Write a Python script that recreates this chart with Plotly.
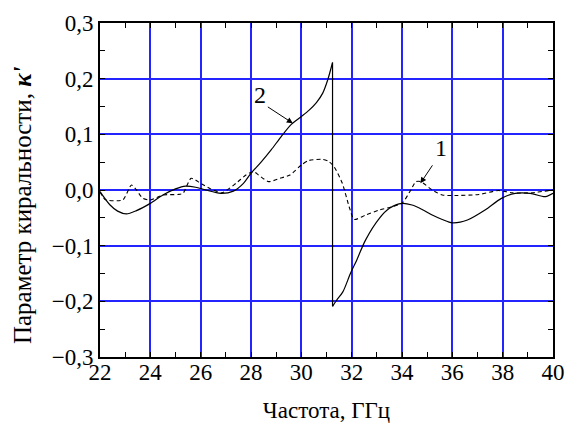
import plotly.graph_objects as go

# Curve 2 (solid) — jump at 31.24 GHz
x2 = [22.0, 22.4, 22.7, 23.05, 23.45, 24.0, 24.5, 25.0, 25.4, 25.8, 26.2, 26.8, 27.3, 27.7,
      28.0, 28.4, 28.8, 29.2, 29.6, 30.0, 30.3, 30.6, 30.85, 31.05, 31.24,
      31.24, 31.4, 31.65, 31.95, 32.2, 32.55, 33.1, 33.5, 34.0, 34.4, 34.8, 35.2, 35.6,
      36.0, 36.6, 37.3, 37.95, 38.5, 39.1, 39.7, 40.0]
y2 = [-0.003, -0.027, -0.038, -0.043, -0.037, -0.024, -0.009, 0.002, 0.007, 0.005, 0.0, -0.006, -0.002, 0.012,
      0.03, 0.05, 0.072, 0.096, 0.118, 0.132, 0.143, 0.157, 0.174, 0.198, 0.229,
      -0.209, -0.198, -0.183, -0.150, -0.126, -0.09, -0.051, -0.033, -0.024, -0.027, -0.035, -0.045, -0.053,
      -0.059, -0.054, -0.036, -0.015, -0.006, -0.006, -0.012, -0.006]

# Curve 1 (dashed)
x1 = [22.0, 22.2, 22.9, 23.25, 23.45, 23.7, 24.0, 24.5, 25.1, 25.3, 25.62, 26.0, 26.4, 26.85,
      27.4, 27.8, 28.1, 28.3, 28.7, 29.15, 29.55, 30.0, 30.3, 30.85, 31.1, 31.3, 31.63, 31.9,
      32.1, 32.56, 33.1, 33.6, 34.0, 34.35, 34.55, 34.75, 35.2, 35.6, 36.1, 37.05, 37.84,
      38.37, 39.16, 39.68, 40.0]
y1 = [-0.003, -0.017, -0.018, 0.009, 0.0, -0.015, -0.018, -0.009, -0.008, -0.006, 0.021, 0.012, 0.002, -0.005,
      0.012, 0.027, 0.033, 0.027, 0.015, 0.021, 0.027, 0.045, 0.053, 0.055, 0.051, 0.042, 0.012, -0.030,
      -0.053, -0.045, -0.036, -0.030, -0.024, 0.0, 0.015, 0.015, 0.0, -0.009, -0.010, -0.008, -0.001,
      -0.005, -0.005, -0.002, 0.0]

# Curve labels: text position, arrow tail, arrow head
label_text = ["2", "1"]
label_x = [28.34, 35.56]
label_y = [0.171, 0.075]
tail_x = [28.61, 35.25]
tail_y = [0.151, 0.047]
head_x = [29.66, 34.73]
head_y = [0.120, 0.012]

x_ticks = [22, 24, 26, 28, 30, 32, 34, 36, 38, 40]
y_ticks = [-0.3, -0.2, -0.1, 0.0, 0.1, 0.2, 0.3]

FONT = "Liberation Serif"

# split solid curve at the jump (repeated x)
j = next(i for i in range(1, len(x2)) if x2[i] == x2[i - 1])
xs = x2[:j] + [None] + x2[j - 1:j + 1] + [None] + x2[j:]
ys = y2[:j] + [None] + y2[j - 1:j + 1] + [None] + y2[j:]

fig = go.Figure()
fig.add_trace(go.Scatter(x=x1, y=y1, mode="lines",
                         line=dict(color="black", width=1.1, dash="4px,3px", shape="spline", smoothing=0.6),
                         showlegend=False))
fig.add_trace(go.Scatter(x=xs, y=ys, mode="lines", connectgaps=False,
                         line=dict(color="black", width=1.2, shape="spline", smoothing=0.8),
                         showlegend=False))

for t, lx, ly, tx, ty, hx, hy in zip(label_text, label_x, label_y, tail_x, tail_y, head_x, head_y):
    fig.add_annotation(x=lx, y=ly, text=t, showarrow=False,
                       font=dict(family=FONT, size=24, color="black"))
    fig.add_annotation(x=hx, y=hy, ax=tx, ay=ty, xref="x", yref="y", axref="x", ayref="y",
                       text="", showarrow=True, arrowhead=2, arrowsize=1.2, arrowwidth=1,
                       arrowcolor="black", standoff=0)

# y-axis title (placed as annotation so it can sit slightly below the plot middle, like the reference)
fig.add_annotation(text="Параметр киральности, <b><i>κ'</i></b>", textangle=-90,
                   xref="paper", yref="paper", x=-0.172, y=0.455, xanchor="center", yanchor="middle",
                   showarrow=False, font=dict(family=FONT, size=25, color="black"))

axis_common = dict(
    showline=True, linecolor="black", linewidth=1.6, mirror="allticks",
    ticks="inside", ticklen=5, tickcolor="black", tickwidth=1,
    showgrid=True, gridcolor="#2424ff", gridwidth=1.5, zeroline=False,
    tickfont=dict(family=FONT, size=23, color="black"), automargin=False,
)

fig.update_xaxes(range=[22, 40], tickvals=x_ticks, ticktext=[str(v) for v in x_ticks],
                 minor=dict(dtick=1, ticks="inside", ticklen=5, tickcolor="black", showgrid=False),
                 ticklabelstandoff=-6,
                 title=dict(text="Частота, ГГц", font=dict(family=FONT, size=23, color="black"), standoff=20),
                 **axis_common)
fig.update_yaxes(range=[-0.3, 0.3], tickvals=y_ticks, tickformat=".1f",
                 minor=dict(dtick=0.05, ticks="inside", ticklen=5, tickcolor="black", showgrid=False),
                 **axis_common)

fig.update_layout(width=568, height=423, margin=dict(l=100, r=15, t=23, b=66),
                  paper_bgcolor="white", plot_bgcolor="white", separators=", ")

fig.write_html("out.html", config={"displayModeBar": False},
               post_script="document.body.style.margin='0';document.body.style.overflow='hidden';")
